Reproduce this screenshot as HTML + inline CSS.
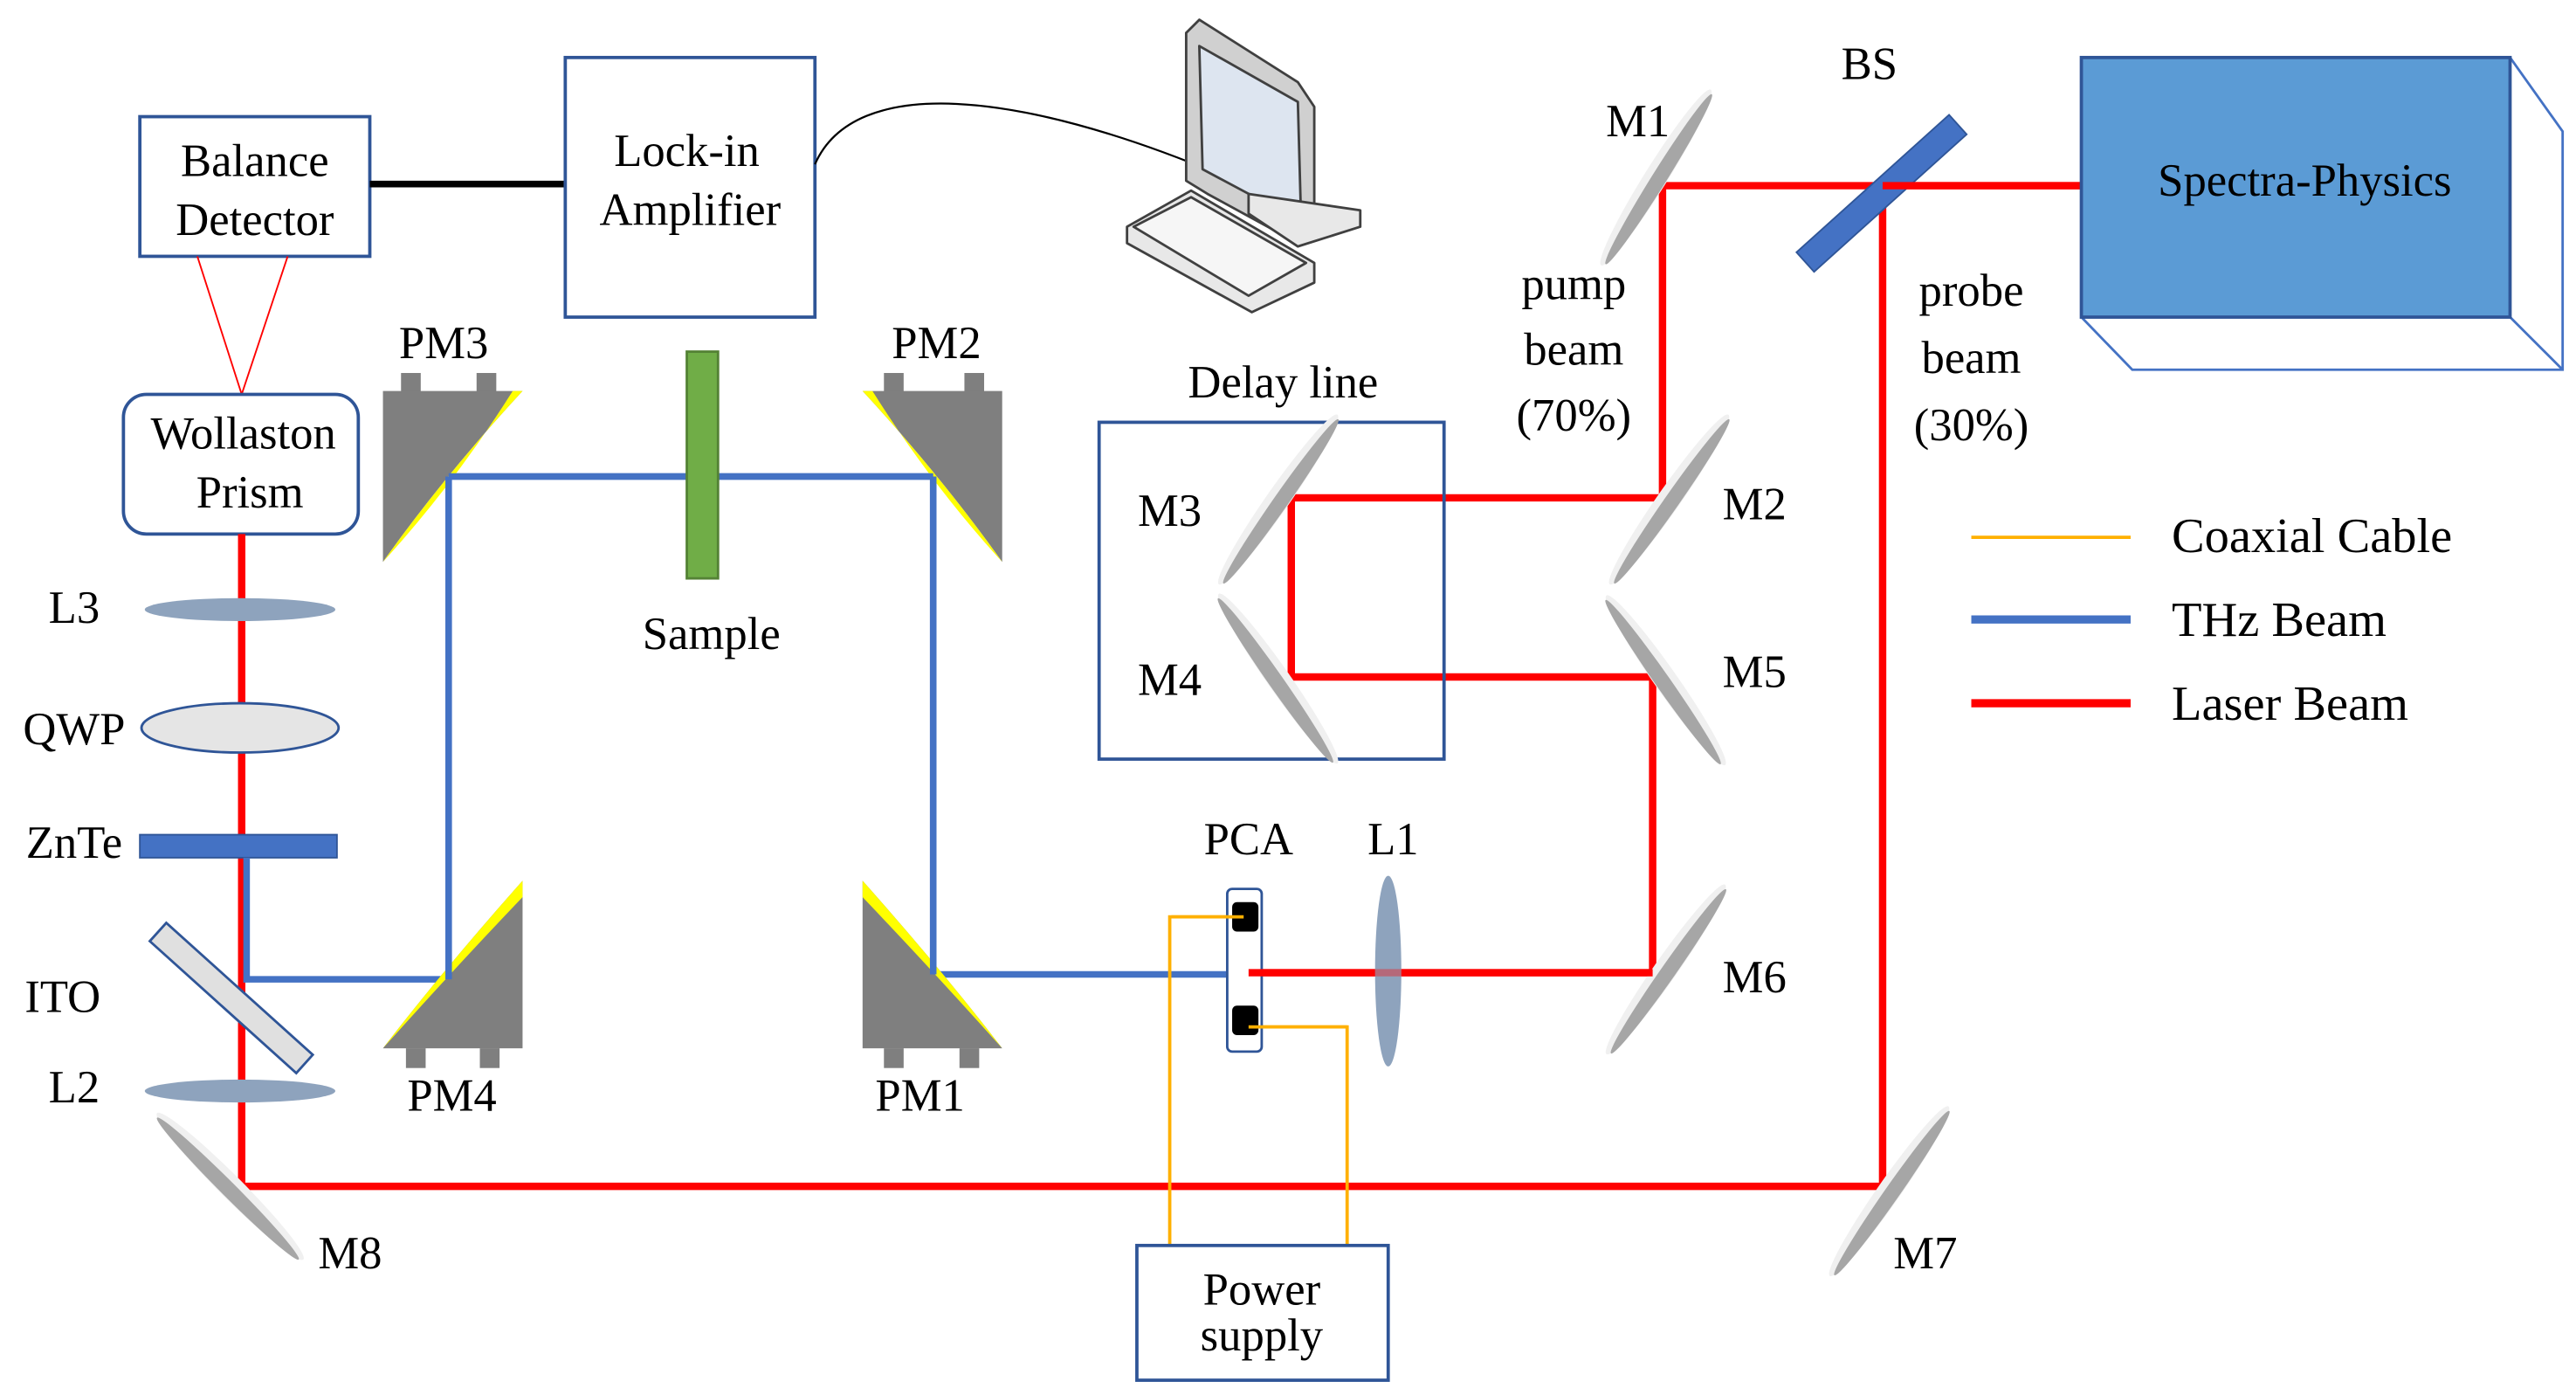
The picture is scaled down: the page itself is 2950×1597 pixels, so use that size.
<!DOCTYPE html>
<html><head><meta charset="utf-8"><style>
html,body{margin:0;padding:0;background:#fff;}
svg{display:block;}
svg text{font-family:'Liberation Serif','Times New Roman',serif;fill:#000;}
</style></head><body>
<svg width="2950" height="1597" viewBox="0 0 1568 849" xmlns="http://www.w3.org/2000/svg" font-family="'Liberation Serif', serif">
<defs>
<g id="mir"><ellipse cx="0" cy="0" rx="63" ry="7" fill="#f0f0f0"/><ellipse cx="0" cy="2" rx="61" ry="4.5" fill="#a6a6a6"/></g>
</defs>
<rect x="85" y="71" width="140" height="85" fill="#fff" stroke="#2f5597" stroke-width="2"/>
<text x="155" y="107" font-size="28" text-anchor="middle">Balance</text>
<text x="155" y="143" font-size="28" text-anchor="middle">Detector</text>
<line x1="225" y1="112" x2="344" y2="112" stroke="#000" stroke-width="4"/>
<rect x="344" y="35" width="152" height="158" fill="#fff" stroke="#2f5597" stroke-width="2"/>
<text x="418" y="101" font-size="28" text-anchor="middle">Lock-in</text>
<text x="420" y="137" font-size="28" text-anchor="middle">Amplifier</text>
<path d="M496,100 C520,45 620,55 742,106" fill="none" stroke="#000" stroke-width="1.2"/>
<path d="M730,97 L744,107 L728,106" fill="none" stroke="#000" stroke-width="1"/>
<g stroke="#404040" stroke-width="1.5" stroke-linejoin="round">
<path d="M722,20 L730,12 L790,50 L800,65 L800,140 L790,148 L735,118 L722,110 Z" fill="#d0d0d0"/>
<path d="M730,28 L790,62 L792,135 L732,103 Z" fill="#dde5f0"/>
<path d="M760,118 L828,128 L828,138 L790,150 L760,130 Z" fill="#e8e8e8"/>
<path d="M686,138 L725,116 L800,160 L800,172 L762,190 L686,148 Z" fill="#e8e8e8"/>
<path d="M690,138 L725,120 L795,160 L760,180 Z" fill="#f6f6f6"/>
</g>
<line x1="120" y1="156" x2="147" y2="240" stroke="#ff0000" stroke-width="1"/>
<line x1="175" y1="156" x2="147" y2="240" stroke="#ff0000" stroke-width="1"/>
<rect x="75" y="240" width="143" height="85" rx="14" fill="#fff" stroke="#2f5597" stroke-width="2"/>
<text x="148" y="273" font-size="28" text-anchor="middle">Wollaston</text>
<text x="152" y="309" font-size="28" text-anchor="middle">Prism</text>
<polyline points="147,325 147,722 1146,722 1146,113" fill="none" stroke="#ff0000" stroke-width="4.5"/>
<polyline points="1267,113 1012,113 1012,303 786,303 786,412 1006,412 1006,592 760,592" fill="none" stroke="#ff0000" stroke-width="4.5"/>
<ellipse cx="146" cy="371" rx="58" ry="7" fill="#8ea3bd"/>
<ellipse cx="146" cy="443" rx="60" ry="15" fill="#e5e5e5" stroke="#2f5597" stroke-width="1.5"/>
<rect x="85" y="508" width="120" height="14" fill="#4472c4" stroke="#2f5597"/>
<rect x="81" y="600" width="120" height="15" fill="#e0e0e0" stroke="#2f5597" stroke-width="1.5" transform="rotate(42 141 607)"/>
<ellipse cx="146" cy="664" rx="58" ry="7" fill="#8ea3bd"/>
<polyline points="150,522 150,596 273,596 273,290 568,290 568,593 748,593" fill="none" stroke="#4472c4" stroke-width="4"/>
<rect x="244" y="227" width="12" height="12" fill="#7f7f7f"/><rect x="290" y="227" width="12" height="12" fill="#7f7f7f"/>
<path d="M233,238 L318,238 Q270,290 233,342 Z" fill="#7f7f7f"/>
<path d="M318,238 Q270,290 233,342 Q276,295 312,238 Z" fill="#ffff00"/>
<rect x="538" y="227" width="12" height="12" fill="#7f7f7f"/><rect x="587" y="227" width="12" height="12" fill="#7f7f7f"/>
<path d="M610,238 L525,238 Q573,290 610,342 Z" fill="#7f7f7f"/>
<path d="M525,238 Q573,290 610,342 Q567,295 531,238 Z" fill="#ffff00"/>
<rect x="247" y="638" width="12" height="12" fill="#7f7f7f"/><rect x="292" y="638" width="12" height="12" fill="#7f7f7f"/>
<path d="M318,536 L318,638 L233,638 Q270,590 318,536 Z" fill="#7f7f7f"/>
<path d="M318,536 Q270,590 233,638 Q276,590 318,546 Z" fill="#ffff00"/>
<rect x="538" y="638" width="12" height="12" fill="#7f7f7f"/><rect x="584" y="638" width="12" height="12" fill="#7f7f7f"/>
<path d="M525,536 L525,638 L610,638 Q573,590 525,536 Z" fill="#7f7f7f"/>
<path d="M525,536 Q573,590 610,638 Q567,590 525,546 Z" fill="#ffff00"/>
<line x1="273" y1="290" x2="568" y2="290" stroke="#4472c4" stroke-width="4"/>
<line x1="273" y1="290" x2="273" y2="596" stroke="#4472c4" stroke-width="4"/>
<line x1="568" y1="290" x2="568" y2="593" stroke="#4472c4" stroke-width="4"/>
<rect x="418" y="214" width="19" height="138" fill="#70ad47" stroke="#548235" stroke-width="1.5"/>
<text x="433" y="395" font-size="28" text-anchor="middle">Sample</text>
<rect x="669" y="257" width="210" height="205" fill="none" stroke="#2f5597" stroke-width="2"/>
<text x="781" y="242" font-size="28" text-anchor="middle">Delay line</text>
<use href="#mir" transform="translate(778,304) rotate(-55)"/>
<use href="#mir" transform="translate(778,413) rotate(55)"/>
<use href="#mir" transform="translate(1008,108) rotate(-58)"/>
<use href="#mir" transform="translate(1016,304) rotate(-55)"/>
<use href="#mir" transform="translate(1014,414) rotate(55)"/>
<use href="#mir" transform="translate(1014,590) rotate(-55)"/>
<use href="#mir" transform="translate(1150,725) rotate(-55)"/>
<use href="#mir" transform="translate(140,722) rotate(45)"/>
<rect x="1083" y="110" width="125" height="16" fill="#4472c4" stroke="#2f5597" transform="rotate(-42 1145 118)"/>
<line x1="1146" y1="113" x2="1267" y2="113" stroke="#ff0000" stroke-width="4.5"/>
<g fill="none" stroke="#4472c4" stroke-width="1.5">
<polyline points="1528,35 1560,80 1560,225 1298,225 1267,193"/>
<line x1="1528" y1="193" x2="1560" y2="225"/>
</g>
<rect x="1267" y="35" width="261" height="158" fill="#5b9bd5" stroke="#2f5597" stroke-width="2"/>
<text x="1403" y="119" font-size="28" text-anchor="middle">Spectra-Physics</text>
<line x1="1200" y1="327" x2="1297" y2="327" stroke="#ffb000" stroke-width="2"/>
<line x1="1200" y1="377" x2="1297" y2="377" stroke="#4472c4" stroke-width="5"/>
<line x1="1200" y1="428" x2="1297" y2="428" stroke="#ff0000" stroke-width="5"/>
<text x="1322" y="336" font-size="30">Coaxial Cable</text>
<text x="1322" y="387" font-size="30">THz Beam</text>
<text x="1322" y="438" font-size="30">Laser Beam</text>
<polyline points="758,558 712,558 712,758" fill="none" stroke="#ffb000" stroke-width="2"/>
<polyline points="760,625 820,625 820,758" fill="none" stroke="#ffb000" stroke-width="2"/>
<rect x="747" y="541" width="21" height="99" rx="3" fill="#fff" stroke="#2f5597" stroke-width="1.5"/>
<rect x="750" y="549" width="16" height="18" rx="3" fill="#000"/>
<rect x="750" y="612" width="16" height="18" rx="3" fill="#000"/>
<line x1="713" y1="558" x2="757" y2="558" stroke="#ffb000" stroke-width="2"/>
<line x1="760" y1="625" x2="820" y2="625" stroke="#ffb000" stroke-width="2"/>
<line x1="760" y1="592" x2="1006" y2="592" stroke="#ff0000" stroke-width="4.5"/>
<ellipse cx="845" cy="591" rx="8" ry="58" fill="#8ea3bd"/>
<line x1="837" y1="592" x2="853" y2="592" stroke="#ff0000" stroke-width="4.5" opacity="0.35"/>
<rect x="692" y="758" width="153" height="82" fill="#fff" stroke="#2f5597" stroke-width="2"/>
<text x="768" y="794" font-size="28" text-anchor="middle">Power</text>
<text x="768" y="822" font-size="28" text-anchor="middle">supply</text>
<g font-size="28">
<text x="270" y="218" text-anchor="middle">PM3</text>
<text x="570" y="218" text-anchor="middle">PM2</text>
<text x="275" y="676" text-anchor="middle">PM4</text>
<text x="560" y="676" text-anchor="middle">PM1</text>
<text x="45" y="379" text-anchor="middle">L3</text>
<text x="45" y="453" text-anchor="middle">QWP</text>
<text x="45" y="522" text-anchor="middle">ZnTe</text>
<text x="38" y="616" text-anchor="middle">ITO</text>
<text x="45" y="671" text-anchor="middle">L2</text>
<text x="213" y="772" text-anchor="middle">M8</text>
<text x="1172" y="772" text-anchor="middle">M7</text>
<text x="1068" y="604" text-anchor="middle">M6</text>
<text x="1068" y="418" text-anchor="middle">M5</text>
<text x="1068" y="316" text-anchor="middle">M2</text>
<text x="712" y="320" text-anchor="middle">M3</text>
<text x="712" y="423" text-anchor="middle">M4</text>
<text x="997" y="83" text-anchor="middle">M1</text>
<text x="1138" y="48" text-anchor="middle">BS</text>
<text x="760" y="520" text-anchor="middle">PCA</text>
<text x="848" y="520" text-anchor="middle">L1</text>
<text x="958" y="182" text-anchor="middle">pump</text>
<text x="958" y="222" text-anchor="middle">beam</text>
<text x="958" y="262" text-anchor="middle">(70%)</text>
<text x="1200" y="186" text-anchor="middle">probe</text>
<text x="1200" y="227" text-anchor="middle">beam</text>
<text x="1200" y="268" text-anchor="middle">(30%)</text>
</g>
</svg>
</body></html>
